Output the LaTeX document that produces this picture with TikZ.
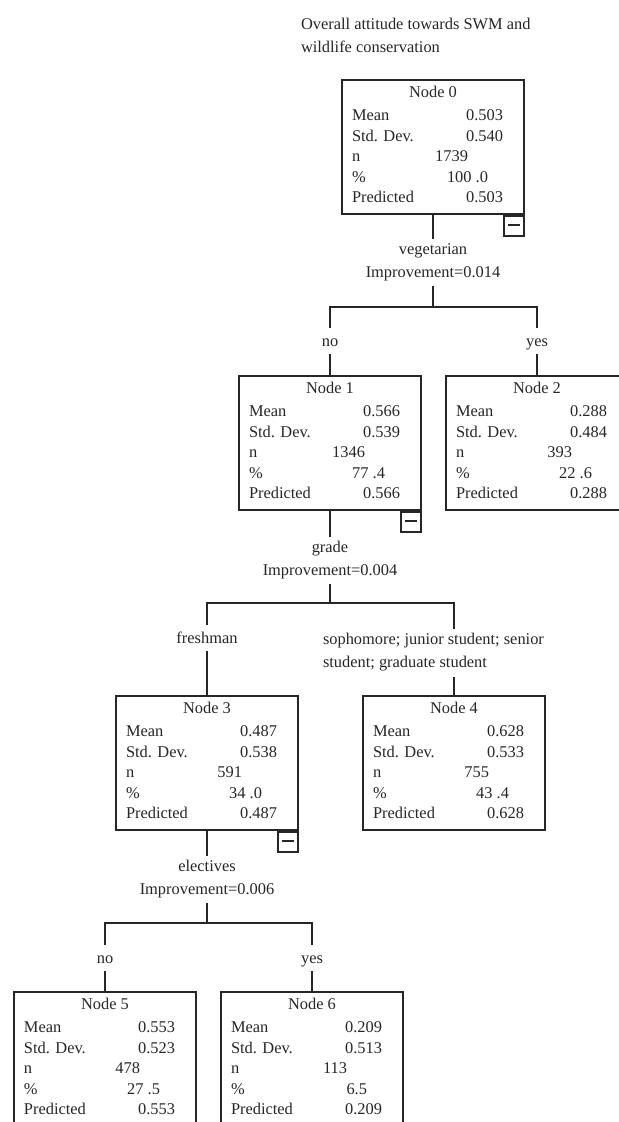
\documentclass[tikz,border=0pt]{standalone}
\usepackage{fontspec}
\setmainfont{Liberation Serif}
\usepackage{tikz}

% one box of the tree: name, centre, number, mean, sd, n, percent, predicted
\newcommand{\statnode}[8]{%
  \node[statbox] (#1) at (#2) {};
  \node[anchor=base, inner sep=0] (#1-title) at ([yshift=-9.4pt]#1.north) {Node #3};
  \node[rowlab] (#1-la) at ([xshift=5pt,yshift=-20.9pt]#1.north west) {Mean};
  \node[rowval] (#1-va) at ([xshift=81.5pt,yshift=-20.9pt]#1.north west) {#4};
  \node[rowlab] (#1-lb) at ([xshift=5pt,yshift=-31.15pt]#1.north west) {Std. Dev.};
  \node[rowval] (#1-vb) at ([xshift=81.5pt,yshift=-31.15pt]#1.north west) {#5};
  \node[rowlab] (#1-lc) at ([xshift=5pt,yshift=-41.4pt]#1.north west) {n};
  \node[rowval] (#1-vc) at ([xshift=64pt,yshift=-41.4pt]#1.north west) {#6};
  \node[rowlab] (#1-ld) at ([xshift=5pt,yshift=-51.65pt]#1.north west) {\%};
  \node[rowval] (#1-vd) at ([xshift=74pt,yshift=-51.65pt]#1.north west) {#7};
  \node[rowlab] (#1-le) at ([xshift=5pt,yshift=-61.9pt]#1.north west) {Predicted};
  \node[rowval] (#1-ve) at ([xshift=81.5pt,yshift=-61.9pt]#1.north west) {#8};
}

\begin{document}
\begin{tikzpicture}[x=0.5pt, y=-0.5pt, line width=1pt, color=black!85,
  every node/.style={font=\fontsize{8.2}{11.5}\selectfont},
  statbox/.style={draw, rectangle, minimum width=91pt, minimum height=67pt, inner sep=0},
  minusbox/.style={draw, rectangle, minimum size=10pt, inner sep=0, anchor=north east,
    path picture={\draw ([xshift=2pt,yshift=0.5pt]path picture bounding box.west) -- ([xshift=-2pt,yshift=0.5pt]path picture bounding box.east);}},
  rowlab/.style={anchor=base west, inner sep=0},
  rowval/.style={anchor=base east, inner sep=0},
  split/.style={anchor=north, align=center, inner sep=2pt},
  branch/.style={anchor=base, inner sep=2pt, text height=1.5ex, text depth=.25ex}]
    \useasboundingbox (0,0) rectangle (619,1122);
    \clip (0,0) rectangle (619,1122);

    \node[anchor=north west, align=left, inner sep=0] (title) at (300,17) {Overall attitude towards SWM and\\wildlife conservation};

    % boxes
    \statnode{n0}{433,147}{0}{0.503}{0.540}{1739}{100 .0}{0.503}
    \statnode{n1}{330,443}{1}{0.566}{0.539}{1346}{77 .4}{0.566}
    \statnode{n2}{537,443}{2}{0.288}{0.484}{393}{22 .6}{0.288}
    \statnode{n3}{207,763}{3}{0.487}{0.538}{591}{34 .0}{0.487}
    \statnode{n4}{454,763}{4}{0.628}{0.533}{755}{43 .4}{0.628}
    \statnode{n5}{105,1059}{5}{0.553}{0.523}{478}{27 .5}{0.553}
    \statnode{n6}{312,1059}{6}{0.209}{0.513}{113}{6.5}{0.209}

    \node[minusbox] (m0) at (n0.south east) {};
    \node[minusbox] (m1) at (n1.south east) {};
    \node[minusbox] (m3) at (n3.south east) {};

    % split on vegetarian
    \node[split] (s0) at (433,238.8) {vegetarian\\Improvement=0.014};
    \coordinate (b0) at (433,307);
    \node[branch] (l1) at (330,346.8) {no};
    \node[branch] (l2) at (537,346.8) {yes};
    \draw (n0.south) -- (s0.north);
    \draw (s0.south) -- (b0);
    \draw (l1.north) |- (b0) -| (l2.north);
    \draw (l1.south) -- (n1.north);
    \draw (l2.south) -- (n2.north);

    % split on grade
    \node[split] (s1) at (330,536.6) {grade\\Improvement=0.004};
    \coordinate (b1) at (330,603);
    \node[branch] (l3) at (207,643.8) {freshman};
    \node[anchor=north west, align=left, inner sep=2pt] (l4) at (318,628.6) {sophomore; junior student; senior\\student; graduate student};
    \draw (n1.south) -- (s1.north);
    \draw (s1.south) -- (b1);
    \draw (l3.north) |- (b1) -| (l4.north -| n4.north);
    \draw (l3.south) -- (n3.north);
    \draw (l4.south -| n4.north) -- (n4.north);

    % split on electives
    \node[split] (s3) at (207,855.6) {electives\\Improvement=0.006};
    \coordinate (b3) at (207,923);
    \node[branch] (l5) at (105,963.8) {no};
    \node[branch] (l6) at (312,963.8) {yes};
    \draw (n3.south) -- (s3.north);
    \draw (s3.south) -- (b3);
    \draw (l5.north) |- (b3) -| (l6.north);
    \draw (l5.south) -- (n5.north);
    \draw (l6.south) -- (n6.north);
\end{tikzpicture}
\end{document}
